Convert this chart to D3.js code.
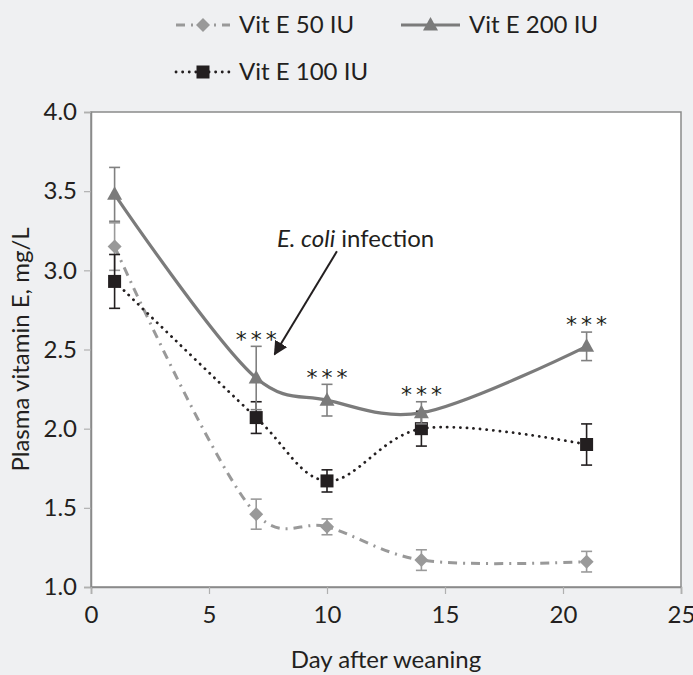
<!DOCTYPE html>
<html>
<head>
<meta charset="utf-8">
<script src="https://cdn.jsdelivr.net/npm/d3@7"></script>
<style>
  body { margin: 0; background: #eff0f2; }
  svg { display: block; font-family: Lato, "Open Sans", sans-serif; }
</style>
</head>
<body>
<div id="chart"></div>
<script>
const days = [1, 7, 10, 14, 21];
const vit50 = [3.15, 1.46, 1.38, 1.17, 1.16];
const vit50Err = [0.15, 0.095, 0.05, 0.065, 0.065];
const vit100 = [2.93, 2.07, 1.67, 2.00, 1.90];
const vit100Err = [0.17, 0.10, 0.07, 0.11, 0.13];
const vit200 = [3.48, 2.32, 2.18, 2.10, 2.52];
const vit200Err = [0.17, 0.20, 0.10, 0.07, 0.09];
const starDays = [7, 10, 14, 21];
const xTicks = [0, 5, 10, 15, 20, 25];
const yTicks = [1.0, 1.5, 2.0, 2.5, 3.0, 3.5, 4.0];

const width = 693, height = 675;
const margin = { top: 112, right: 12, bottom: 88, left: 91 };
const fontSize = "24px";

const svg = d3.select("#chart").append("svg")
    .attr("width", width)
    .attr("height", height);

const x = d3.scaleLinear().domain([0, 25]).range([margin.left, width - margin.right]);
const y = d3.scaleLinear().domain([1, 4]).range([height - margin.bottom, margin.top]);

// plot area
svg.append("rect")
    .attr("x", x(0)).attr("y", y(4))
    .attr("width", x(25) - x(0)).attr("height", y(1) - y(4))
    .attr("fill", "#fff")
    .attr("stroke", "#8a8a8a")
    .attr("stroke-width", 1.5);

// axes
const yAxis = svg.append("g")
    .attr("transform", `translate(${x(0)},0)`)
    .call(d3.axisLeft(y).tickValues(yTicks).tickFormat(d3.format(".1f")).tickSize(7).tickPadding(7));
const xAxis = svg.append("g")
    .attr("transform", `translate(0,${y(1)})`)
    .call(d3.axisBottom(x).tickValues(xTicks).tickSize(7).tickPadding(12));
[xAxis, yAxis].forEach(g => {
    g.select(".domain").attr("stroke", "#8a8a8a").attr("stroke-width", 1.5);
    g.selectAll(".tick line").attr("stroke", "#b0b0b0").attr("stroke-width", 1.2);
    g.selectAll(".tick text").attr("fill", "#231f20").style("font-size", fontSize).style("font-family", "Lato, sans-serif");
});

svg.append("text")
    .attr("x", (x(0) + x(25)) / 2).attr("y", 668)
    .attr("text-anchor", "middle")
    .attr("fill", "#231f20")
    .style("font-size", fontSize)
    .text("Day after weaning");

svg.append("text")
    .attr("transform", `translate(29,${(y(1) + y(4)) / 2}) rotate(-90)`)
    .attr("text-anchor", "middle")
    .attr("fill", "#231f20")
    .style("font-size", fontSize)
    .text("Plasma vitamin E, mg/L");

const series = [
    { name: "Vit E 50 IU", vals: vit50, err: vit50Err, color: "#999999", errColor: "#9a9a9a", dash: "9,6,2,6", width: 3, cap: "butt", shape: "diamond" },
    { name: "Vit E 100 IU", vals: vit100, err: vit100Err, color: "#231f20", errColor: "#231f20", dash: "0.1,6.5", width: 2.8, cap: "round", shape: "square" },
    { name: "Vit E 200 IU", vals: vit200, err: vit200Err, color: "#7b7b7b", errColor: "#808080", dash: null, width: 3.2, cap: "butt", shape: "triangle" }
];

const line = d3.line().curve(d3.curveCatmullRom.alpha(0.25)).x(d => x(d[0])).y(d => y(d[1]));

function marker(g, shape, color) {
    if (shape === "diamond") {
        g.append("path").attr("d", "M0,-7L7,0L0,7L-7,0Z").attr("fill", color);
    } else if (shape === "square") {
        g.append("rect").attr("x", -6.5).attr("y", -6.5).attr("width", 13).attr("height", 13).attr("fill", color);
    } else {
        g.append("path").attr("d", "M0,-8L7.5,5.5L-7.5,5.5Z").attr("fill", color);
    }
}

series.forEach(s => {
    const pts = days.map((d, i) => [d, s.vals[i], s.err[i]]);
    const eb = svg.append("g").attr("stroke", s.errColor).attr("stroke-width", 1.6);
    pts.forEach(p => {
        eb.append("line").attr("x1", x(p[0])).attr("x2", x(p[0])).attr("y1", y(p[1] - p[2])).attr("y2", y(p[1] + p[2]));
        [p[1] - p[2], p[1] + p[2]].forEach(v => {
            eb.append("line").attr("x1", x(p[0]) - 5.5).attr("x2", x(p[0]) + 5.5).attr("y1", y(v)).attr("y2", y(v));
        });
    });
    svg.append("path")
        .datum(pts)
        .attr("d", line)
        .attr("fill", "none")
        .attr("stroke", s.color)
        .attr("stroke-width", s.width)
        .attr("stroke-linecap", s.cap)
        .attr("stroke-dasharray", s.dash);
    pts.forEach(p => {
        marker(svg.append("g").attr("transform", `translate(${x(p[0])},${y(p[1])})`), s.shape, s.color);
    });
});

// significance stars
starDays.forEach(d => {
    const i = days.indexOf(d);
    svg.append("text")
        .attr("x", x(d) + 2).attr("y", y(vit200[i] + vit200Err[i]) - 13)
        .attr("dy", "0.6em")
        .attr("text-anchor", "middle")
        .attr("fill", "#231f20")
        .style("font-family", "DejaVu Sans, sans-serif")
        .style("font-size", "22px")
        .style("letter-spacing", "4px")
        .text("***");
});

// annotation
const note = svg.append("text")
    .attr("x", x(7.88)).attr("y", y(3.2))
    .attr("dy", "0.35em")
    .attr("fill", "#231f20")
    .style("font-size", fontSize);
note.append("tspan").style("font-style", "italic").text("E. coli");
note.append("tspan").text(" infection");

svg.append("defs").append("marker")
    .attr("id", "arrow")
    .attr("viewBox", "0 0 10 10")
    .attr("refX", 9).attr("refY", 5)
    .attr("markerWidth", 7).attr("markerHeight", 7)
    .attr("markerUnits", "strokeWidth")
    .attr("orient", "auto")
    .append("path").attr("d", "M0,0L10,5L0,10Z").attr("fill", "#231f20");

svg.append("line")
    .attr("x1", x(10.42)).attr("y1", y(3.12))
    .attr("x2", x(7.78)).attr("y2", y(2.47))
    .attr("stroke", "#231f20")
    .attr("stroke-width", 2)
    .attr("marker-end", "url(#arrow)");

// legend
const legendItems = [
    { s: series[0], x: 176, y: 25, len: 54 },
    { s: series[2], x: 401, y: 25, len: 59 },
    { s: series[1], x: 176, y: 72, len: 54 }
];
legendItems.forEach(it => {
    const g = svg.append("g").attr("transform", `translate(${it.x},${it.y})`);
    g.append("line")
        .attr("x1", 0).attr("x2", it.len)
        .attr("stroke", it.s.color)
        .attr("stroke-width", it.s.width)
        .attr("stroke-linecap", it.s.cap)
        .attr("stroke-dasharray", it.s.dash);
    marker(g.append("g").attr("transform", `translate(${it.len / 2},0)`), it.s.shape, it.s.color);
    g.append("text")
        .attr("x", it.len + 9)
        .attr("dy", "0.35em")
        .attr("fill", "#231f20")
        .style("font-size", fontSize)
        .text(it.s.name);
});
</script>
</body>
</html>
